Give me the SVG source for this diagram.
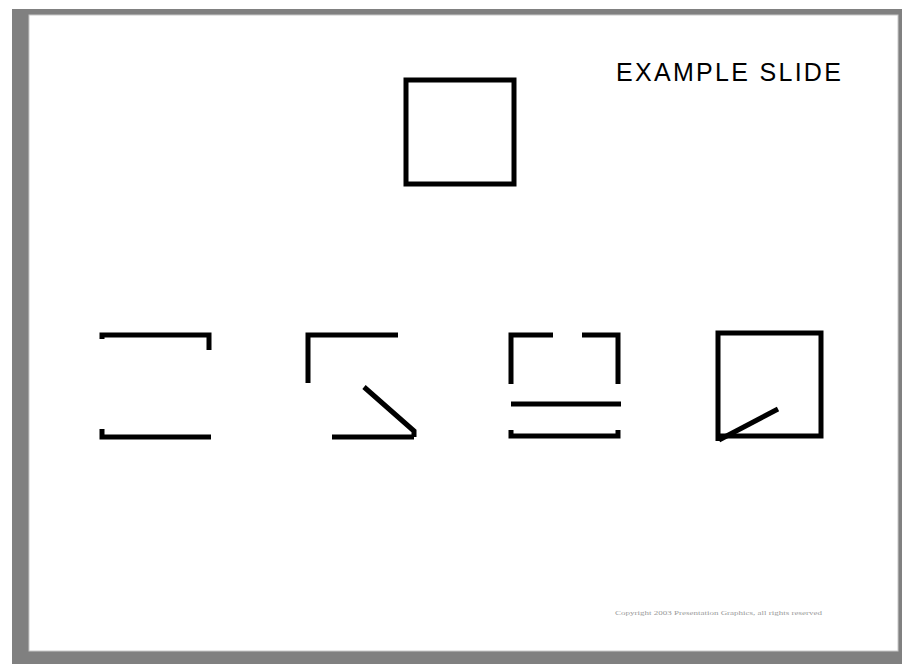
<svg xmlns="http://www.w3.org/2000/svg" width="902" height="664" viewBox="0 0 902 664">
<style>
.ln{fill:none;stroke:#000;stroke-width:5;stroke-linejoin:miter;stroke-linecap:butt}
.title{font-family:"Liberation Sans",Arial,sans-serif;font-size:25px;letter-spacing:2.3px;fill:#000}
.foot{font-family:"Liberation Serif","Times New Roman",serif;font-size:7px;fill:#9a9a9a}
</style>
<rect x="0" y="0" width="902" height="664" fill="#fff"/>
<rect x="12" y="9" width="890" height="655" fill="#808080"/>
<rect x="29" y="15" width="869" height="636" fill="#fff" stroke="#c8c8c8" stroke-width="1"/>
<text class="title" x="616" y="81">EXAMPLE SLIDE</text>
<g id="top-square">
<rect class="ln" x="406" y="80" width="108" height="104"/>
</g>
<g id="shape1">
<path class="ln" d="M102,339 V335 H209 V350"/>
<path class="ln" d="M102,429 V437 H211"/>
</g>
<g id="shape2">
<path class="ln" d="M308,383 V335 H398"/>
<path class="ln" d="M364,387 L414,431 V437"/>
<path class="ln" d="M332,437 H414"/>
</g>
<g id="shape3">
<path class="ln" d="M511,384 V335 H553"/>
<path class="ln" d="M582,335 H618 V384"/>
<path class="ln" d="M511,404 H621"/>
<path class="ln" d="M511,430 V436 H618 V430"/>
</g>
<g id="shape4">
<path class="ln" d="M718,441 V333 H821 V436 H718"/>
<path class="ln" d="M719,440 L778,409"/>
</g>
<text class="foot" x="615" y="615" textLength="207" lengthAdjust="spacingAndGlyphs">Copyright 2003 Presentation Graphics, all rights reserved</text>
</svg>
